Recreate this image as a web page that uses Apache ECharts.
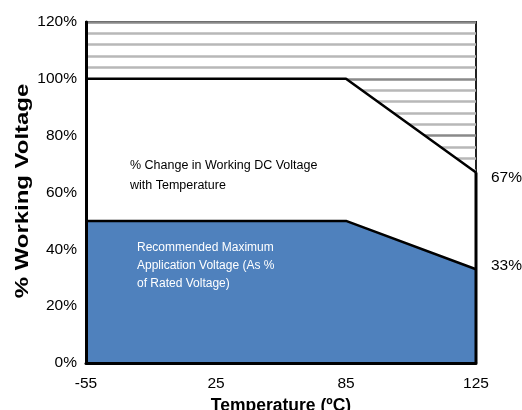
<!DOCTYPE html>
<html>
<head>
<meta charset="utf-8">
<script src="https://cdn.jsdelivr.net/npm/echarts@6/dist/echarts.min.js"></script>
<style>html,body{margin:0;padding:0;background:#fff}#c{width:522px;height:410px}</style>
</head>
<body>
<div id="c"></div>
<script>
var categories = ['-55', '25', '85', '125'];
var upperLimit = [100, 100, 100, 67];
var recommended = [50, 50, 50, 33];
var yTicks = [0, 20, 40, 60, 80, 100, 120];

var FONT = '"Liberation Sans", Arial, sans-serif';
var last = categories.length - 1;
var chart = echarts.init(document.getElementById('c'));
chart.setOption({
  animation: false,
  backgroundColor: '#fff',
  grid: { left: 86, right: 46, top: 22, bottom: 47, containLabel: false, outerBoundsMode: 'none', show: true, borderColor: '#222', borderWidth: 2, backgroundColor: 'transparent' },
  xAxis: {
    type: 'category', data: categories, boundaryGap: false, z: 10,
    axisLine: { lineStyle: { color: '#000', width: 3 } },
    axisTick: { show: false },
    axisLabel: { color: '#000', fontSize: 15.5, fontFamily: FONT, margin: 13 },
    splitLine: { show: false },
    name: 'Temperature (ºC)', nameLocation: 'middle', nameGap: 30,
    nameTextStyle: { color: '#000', fontSize: 17.5, fontWeight: 'bold', fontFamily: FONT }
  },
  yAxis: [{
    type: 'value', min: yTicks[0], max: yTicks[yTicks.length - 1], interval: 20, z: 10,
    axisLine: { show: true, lineStyle: { color: '#000', width: 3 } },
    axisTick: { show: false },
    axisLabel: { color: '#000', fontSize: 15.5, fontFamily: FONT, margin: 9, formatter: '{value}%' },
    splitLine: { show: false }
  }, {
    type: 'value', min: yTicks[0], max: yTicks[yTicks.length - 1], interval: 20,
    axisLine: { show: false }, axisTick: { show: false }, axisLabel: { show: false },
    splitLine: { show: true, lineStyle: { color: '#8a8a8a', width: 2.5 } },
    minorTick: { show: false, splitNumber: 5 },
    minorSplitLine: { show: true, lineStyle: { color: '#b8b8b8', width: 2.5 } }
  }],
  series: [{
    type: 'line', data: upperLimit, symbol: 'none', z: 3,
    lineStyle: { color: '#000', width: 2.5 },
    areaStyle: { color: '#fff', opacity: 1 },
    endLabel: { show: true, formatter: '{c}%', color: '#000', fontSize: 15.5, fontFamily: FONT, distance: 15, offset: [0, 5] }
  }, {
    type: 'line', data: recommended, symbol: 'none', z: 4,
    lineStyle: { color: '#000', width: 2.5 },
    areaStyle: { color: '#4F81BD', opacity: 1 },
    endLabel: { show: true, formatter: '{c}%', color: '#000', fontSize: 15.5, fontFamily: FONT, distance: 15, offset: [0, -4] }
  }, {
    type: 'line', data: [[last, 0], [last, upperLimit[last]]], symbol: 'none', z: 5,
    lineStyle: { color: '#000', width: 3 }
  }],
  graphic: [{
    type: 'text', x: 23, y: 191, rotation: Math.PI / 2, scaleX: 1.33,
    style: { text: '% Working Voltage', fill: '#000', font: 'bold 18px ' + FONT, textAlign: 'center', textVerticalAlign: 'middle' }
  }, {
    type: 'text', x: 130, y: 156, z: 20,
    style: { text: '% Change in Working DC Voltage\nwith Temperature', fill: '#000', font: '12.5px ' + FONT, lineHeight: 20 }
  }, {
    type: 'text', x: 137, y: 239, z: 20,
    style: { text: 'Recommended Maximum\nApplication Voltage (As %\nof Rated Voltage)', fill: '#fff', font: '12px ' + FONT, lineHeight: 18 }
  }]
});
</script>
</body>
</html>
